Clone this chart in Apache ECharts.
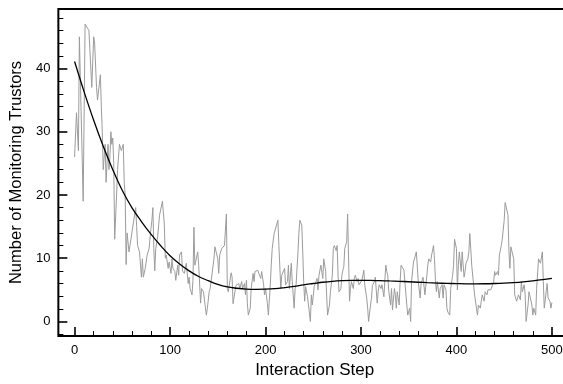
<!DOCTYPE html>
<html><head><meta charset="utf-8">
<script src="https://cdn.jsdelivr.net/npm/echarts@6/dist/echarts.min.js"></script>
<style>html,body{margin:0;padding:0;overflow:hidden;background:#fff}#c{width:600px;height:384px}</style>
</head><body><div id="c"></div>
<script>
// tick labels
const xMajorTicks = [0, 100, 200, 300, 400, 500];
const yMajorTicks = [0, 10, 20, 30, 40];
// raw number of monitoring trustors per interaction step [step, count]
const trustorsRaw = [
[0,26],[2,33],[3,33],[4,27],[5,45],[7,32],[9,19],[11,47],[13,47],[15,46],[16,43],[18,37],[20,45],[21,44],[23,37],[24,35],[25,35],[27,39],[28,34],[29,30],[30,24],[32,28],[33,22],[35,28],[36,24],[37,26],[38,30],[39,28],[40,29],[41,25],[42,13],[44,20],[45,24],[47,28],[48,28],[49,27],[51,28],[52,22],[53,20],[54,9],[55,14],[57,11],[58,12],[60,12],[62,16],[64,18],[65,15],[66,12],[68,11],[69,11],[70,7],
[71,9.9],[72,7],[74,8.4],[76,10.5],[78,11.5],[80,14.7],[81,16],[82,18],[83,11.5],[84,8],[85,11.5],[87,13.4],[89,16.8],[91,17],[92,19],[94,15.4],[95,10],[96,10.5],[98,8.4],[99,9.4],[101,7.6],[102,9.9],[103,8.4],[105,7.9],[106,6.5],[108,8.9],[109,7.3],[110,10.5],[112,11],[113,8],[115,7.6],[116,7.3],[117,9.2],[119,6],[120,7],[121,5.2],[123,4.2],[124,6.5],[125,14.9],[126,8.9],[128,9.2],[129,11],[130,8.9],[132,2.9],[133,5.2],[135,4.7],[137,4.7],[138,1],[139,2],[141,4.7],[142,5.2],[144,5],[146,9.9],[147,11.8],[148,11.5],[150,9.9],[151,7.6],[152,10.5],[154,11.5],[156,11.8],[157,12],[159,17],[160,5.2],
[161,4.7],[162,5],[164,7.7],[165,7],[166,2.8],[168,2.8],[169,5.7],[171,5.8],[172,6],[173,5.2],[175,6.3],[176,5.2],[178,6],[179,4.2],[180,6.5],[181,2.8],[182,1],[184,2.1],[185,5.2],[187,7.6],[188,6.3],[189,7.9],[191,7.9],[192,8.1],[193,7.6],[195,6.8],[196,7.9],[198,5.8],[199,4.2],[200,5.2],[202,2.8],[203,1],[205,5.8],[206,8.9],[207,11.5],[209,13.9],[210,14.1],[211,14.1],[213,16],[214,12],[216,5.2],[217,7.3],[218,7.3],[220,8.4],[221,5.8],[223,6.3],[224,8.9],[225,5.2],[227,9.2],[228,6.3],[230,2.1],[231,5.2],[232,5.8],[234,11],[235,14.1],[236,16],[238,15.2],[239,11],[240,6.3],
[241,3.2],[242,5.5],[244,3.9],[245,2.6],[247,0],[248,4.2],[249,2.6],[251,5.5],[252,5.2],[254,6.8],[255,5],[256,7.3],[258,8.9],[259,9.2],[260,6.8],[261,9.9],[263,7.9],[264,4.2],[265,1],[267,2.6],[268,4.7],[270,7.3],[271,11.5],[272,12],[274,11.2],[275,12],[276,7.3],[277,4.7],[279,5.2],[280,7.3],[281,8.1],[282,8.6],[283,11.5],[285,12.6],[286,17],[288,3.2],[289,5.2],[290,6.3],[292,5.2],[293,6.8],[294,7.3],[296,6.3],[297,6.8],[298,5.8],[300,5.8],[301,6.5],[303,8.1],[304,5.7],[306,3.7],[307,2.1],[308,0],[310,2.6],[311,3.7],[312,5.7],[314,6.3],[315,7],[317,2.9],[318,4.7],[319,5.8],
[321,5.2],[322,5.8],[324,3.9],[325,6.5],[326,8.9],[327,7.9],[328,7.3],[329,5],[331,2.6],[332,5.2],[333,1.8],[335,5.2],[336,4.2],[337,2.1],[338,4.7],[340,2.6],[341,6.3],[342,8.9],[344,9.2],[345,8.1],[347,7.9],[348,2.6],[349,1],[351,2.1],[352,0],[353,6.3],[355,9.4],[356,9.9],[358,11],[359,11],[360,6.3],[362,3.7],[363,6],[365,7],[366,6.8],[367,4.2],[369,7.3],[370,8.9],[371,9.9],[373,9.4],[374,10.5],[376,12],[377,9.9],[378,6.5],[379,4.7],[380,6.3],[382,3.7],[383,5.2],[385,5.8],[386,3.7],[387,5.8],[389,5],[390,2.1],[391,1.5],[393,1],[394,5.2],[396,7.3],[397,8.9],[398,13],
[400,11.5],[401,5],[402,8.9],[403,11],[405,7.9],[406,11],[408,7],[409,7.9],[410,9.2],[412,9.9],[413,11],[414,13.9],[415,11.5],[416,8.9],[418,8.9],[419,4.2],[421,2.1],[422,1],[423,2.6],[425,2.1],[426,3.2],[427,4.2],[429,3.2],[430,4.7],[432,4.2],[433,5],[434,4.7],[436,5],[437,5.2],[439,6.3],[440,7.9],[441,7.3],[443,7.9],[444,7.3],[445,10.5],[447,12],[448,13],[450,16],[451,18.8],[453,18.9],[454,16.8],[455,11],[456,8.4],[457,11.8],[459,11.5],[460,9.9],[461,4.2],[463,3.2],[464,3.2],[465,4.2],[467,3.4],[468,6.3],[469,4.7],[471,5.8],[472,4.2],[473,0],[475,2.6],[476,4.7],[477,5],[479,2.6],[480,1],[481,2.1],[483,1],[484,5.2],[486,9.9],[487,9.9],[488,9.2],[490,11],[491,6.3],[492,2.1],[494,4.7],[495,6],[496,3.7],[498,3.2],[499,2.1],[500,3]
];
// fitted trend
const fitSteps = [0,10,20,30,40,50,60,70,80,90,100,110,120,130,140,150,160,170,180,190,200,210,220,230,240,250,260,270,280,290,300,310,320,330,340,350,360,370,380,390,400,410,420,430,440,450,460,470,480,490,500];
const fitValues = [41.1,36.3,31.8,27.7,24.0,20.7,18.0,15.8,13.8,12.0,10.4,9.1,8.0,7.1,6.45,5.85,5.45,5.25,5.12,5.08,5.1,5.18,5.35,5.55,5.8,6.0,6.2,6.35,6.45,6.5,6.5,6.48,6.45,6.4,6.35,6.28,6.2,6.13,6.07,6.02,5.98,5.95,5.95,5.96,6.0,6.06,6.15,6.27,6.42,6.6,6.82];

const xMinorTicks = [];
for (let v = 20; v < 520; v += 20) if (v % 100) xMinorTicks.push(v);
const yMinorTicks = [];
for (let v = -2; v < 50; v += 2) if (v % 10) yMinorTicks.push(v);

const FONT = 'Liberation Sans, Arial, Helvetica, sans-serif';
const X_MIN = -17, X_MAX = 520, Y_MIN = -2.3, Y_MAX = 49.4;

const chart = echarts.init(document.getElementById('c'), null, {renderer: 'canvas'});
chart.setOption({
  animation: false,
  backgroundColor: '#fff',
  grid: {left: 53.5, top: 9, width: 517.5, height: 329, show: true, borderColor: '#000', borderWidth: 2, backgroundColor: 'transparent'},
  xAxis: [{
    type: 'value', min: X_MIN, max: X_MAX, position: 'bottom',
    axisLine: {show: false, onZero: false},
    axisTick: {show: true, inside: true, length: 9, customValues: xMajorTicks, lineStyle: {color: '#000', width: 1.6}},
    axisLabel: {customValues: xMajorTicks, fontSize: 13, color: '#000', fontFamily: FONT, margin: 8},
    splitLine: {show: false},
    name: 'Interaction Step', nameLocation: 'middle', nameGap: 26,
    nameTextStyle: {fontSize: 17, color: '#000', fontFamily: FONT}
  }, {
    type: 'value', min: X_MIN, max: X_MAX, position: 'bottom', gridIndex: 0,
    axisLine: {show: false, onZero: false},
    axisTick: {show: true, inside: true, length: 5, customValues: xMinorTicks, lineStyle: {color: '#000', width: 1}},
    axisLabel: {show: false}, splitLine: {show: false}
  }],
  yAxis: [{
    type: 'value', min: Y_MIN, max: Y_MAX, position: 'left',
    axisLine: {show: false, onZero: false},
    axisTick: {show: true, inside: true, length: 9, customValues: yMajorTicks, lineStyle: {color: '#000', width: 1.6}},
    axisLabel: {customValues: yMajorTicks, fontSize: 13, color: '#000', fontFamily: FONT, margin: 8},
    splitLine: {show: false},
    name: 'Number of Monitoring Trustors', nameLocation: 'middle', nameGap: 24,
    nameTextStyle: {fontSize: 16.5, color: '#000', fontFamily: FONT}
  }, {
    type: 'value', min: Y_MIN, max: Y_MAX, position: 'left', gridIndex: 0,
    axisLine: {show: false, onZero: false},
    axisTick: {show: true, inside: true, length: 5, customValues: yMinorTicks, lineStyle: {color: '#000', width: 1}},
    axisLabel: {show: false}, splitLine: {show: false}
  }],
  series: [{
    type: 'line', data: trustorsRaw, showSymbol: false, symbol: 'none',
    lineStyle: {color: '#9c9c9c', width: 1}, z: 2
  }, {
    type: 'line', data: fitSteps.map((s, i) => [s, fitValues[i]]), showSymbol: false, symbol: 'none', smooth: 0.4,
    lineStyle: {color: '#000', width: 1.3}, z: 3
  }]
});
</script></body></html>
